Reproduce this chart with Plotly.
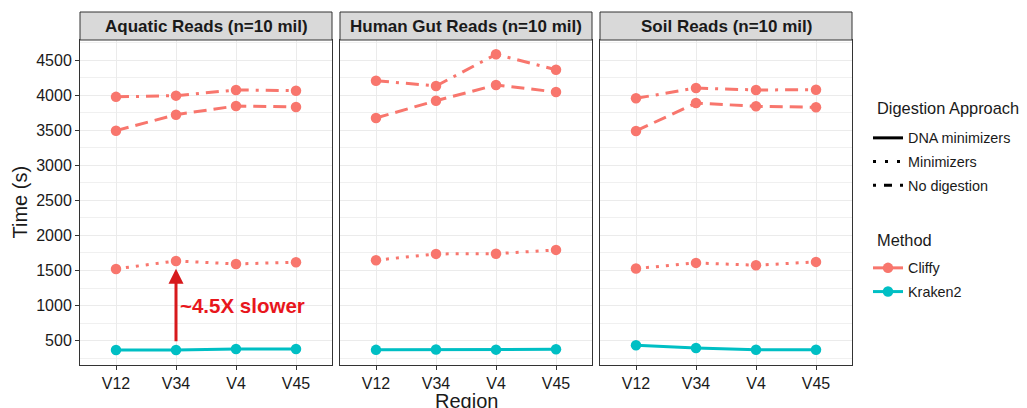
import plotly.graph_objects as go

regions = ["V12", "V34", "V4", "V45"]
panels = ["Aquatic Reads (n=10 mil)", "Human Gut Reads (n=10 mil)", "Soil Reads (n=10 mil)"]

# Cliffy (dash-dot series)
cliffy_dashdot_aquatic = [3975, 3992, 4073, 4063]
cliffy_dashdot_gut = [4205, 4130, 4581, 4362]
cliffy_dashdot_soil = [3954, 4101, 4073, 4077]
# Cliffy (dashed series)
cliffy_dash_aquatic = [3493, 3721, 3845, 3830]
cliffy_dash_gut = [3674, 3920, 4144, 4044]
cliffy_dash_soil = [3489, 3887, 3840, 3826]
# Cliffy (dotted series, Minimizers)
cliffy_dot_aquatic = [1523, 1637, 1594, 1618]
cliffy_dot_gut = [1647, 1737, 1740, 1794]
cliffy_dot_soil = [1528, 1609, 1576, 1623]
# Kraken2 (solid, DNA minimizers)
kraken_aquatic = [368, 368, 382, 382]
kraken_gut = [370, 375, 373, 378]
kraken_soil = [436, 396, 372, 372]

y_ticks = [500, 1000, 1500, 2000, 2500, 3000, 3500, 4000, 4500]
y_range = [154, 4785]

arrow_from = 470
arrow_to = 1525
arrow_label = "~4.5X slower"
arrow_label_y = 1000

digestion_names = ["DNA minimizers", "Minimizers", "No digestion"]
method_names = ["Cliffy", "Kraken2"]

CLIFFY = "#F8766D"
KRAKEN = "#00BFC4"
FONT = "Liberation Sans, Arial, Helvetica, sans-serif"
TXT = "#1a1a1a"

DASH = "13px,7px"
DASHDOT = "13px,7px,3px,7px"
DOT = "3px,7px"

series = [
    ([cliffy_dashdot_aquatic, cliffy_dashdot_gut, cliffy_dashdot_soil], CLIFFY, DASHDOT),
    ([cliffy_dash_aquatic, cliffy_dash_gut, cliffy_dash_soil], CLIFFY, DASH),
    ([cliffy_dot_aquatic, cliffy_dot_gut, cliffy_dot_soil], CLIFFY, DOT),
    ([kraken_aquatic, kraken_gut, kraken_soil], KRAKEN, "solid"),
]

fig = go.Figure()

for vals, color, dash in series:
    for i in range(3):
        sfx = "" if i == 0 else str(i + 1)
        fig.add_trace(go.Scatter(
            x=regions, y=vals[i], mode="lines+markers",
            line=dict(color=color, width=3, dash=dash),
            marker=dict(color=color, size=10.5),
            xaxis="x" + sfx, yaxis="y" + sfx, showlegend=False,
            hoverinfo="skip",
        ))

# Legend entries: Digestion Approach
for name, dash in zip(digestion_names, ["solid", "3px,9px", "3px,8px,8px,8px"]):
    fig.add_trace(go.Scatter(x=[None], y=[None], mode="lines", name=name,
                             line=dict(color="black", width=3, dash=dash),
                             legend="legend", legendgroup=name, showlegend=True))
# Legend entries: Method
for name, color in zip(method_names, [CLIFFY, KRAKEN]):
    fig.add_trace(go.Scatter(x=[None], y=[None], mode="lines+markers", name=name,
                             line=dict(color=color, width=3),
                             marker=dict(color=color, size=10.5),
                             legend="legend2", legendgroup=name, showlegend=True))

# page body adds an 8px offset; figure is sized to fit the window
OFF = 8
W, H = 1027 - OFF, 408 - OFF
ml, mr, mt, mb = 80 - OFF, 175, 12 - OFF, 43
pw = W - ml - mr
ph = H - mt - mb
panel_top_px = 40 - OFF
ydom_top = (H - mb - panel_top_px) / ph


def px_x(sx):
    return (sx - OFF - ml) / pw


def px_y(sy):
    return (H - mb - (sy - OFF)) / ph


x_doms = [
    (0, px_x(332)),
    (px_x(340), px_x(592)),
    (px_x(600), 1.0),
]

layout = dict(
    width=W, height=H,
    margin=dict(l=ml, r=mr, t=mt, b=mb, autoexpand=False),
    paper_bgcolor="white", plot_bgcolor="white",
    font=dict(family=FONT, color=TXT),
    showlegend=True,
)

for i in range(3):
    sfx = "" if i == 0 else str(i + 1)
    layout["xaxis" + sfx] = dict(
        domain=list(x_doms[i]), anchor="y" + sfx,
        type="category", categoryorder="array", categoryarray=regions,
        range=[-0.6, 3.6],
        showline=True, mirror=True, linecolor="#333333", linewidth=1,
        showgrid=True, gridcolor="#EBEBEB", gridwidth=1,
        ticks="outside", ticklen=4, tickcolor="#333333",
        tickfont=dict(size=16, color=TXT, family=FONT),
        zeroline=False, fixedrange=True, automargin=False,
    )
    layout["yaxis" + sfx] = dict(
        domain=[0, ydom_top], anchor="x" + sfx,
        range=y_range, tickmode="array", tickvals=y_ticks,
        showticklabels=(i == 0),
        showline=True, mirror=True, linecolor="#333333", linewidth=1,
        showgrid=True, gridcolor="#EBEBEB", gridwidth=1.1,
        minor=dict(tick0=250, dtick=500, showgrid=True, gridcolor="#F0F0F0", gridwidth=0.6),
        ticks="outside" if i == 0 else "", ticklen=4, tickcolor="#333333",
        tickfont=dict(size=16, color=TXT, family=FONT),
        zeroline=False, fixedrange=True, automargin=False,
    )
    if i > 0:
        layout["yaxis" + sfx]["matches"] = "y"

leg_common = dict(
    xref="container", yref="container", xanchor="left", yanchor="top",
    font=dict(size=14.4, family=FONT, color=TXT),
    bgcolor="rgba(0,0,0,0)", itemwidth=30, traceorder="grouped", tracegroupgap=2,
)
layout["legend"] = dict(x=(868 - OFF) / W, y=1 - (122 - OFF) / H, **leg_common)
layout["legend2"] = dict(x=(868 - OFF) / W, y=1 - (252 - OFF) / H, **leg_common)

shapes = []
annotations = []
for i in range(3):
    shapes.append(dict(type="rect", xref="paper", yref="paper",
                       x0=x_doms[i][0], x1=x_doms[i][1], y0=ydom_top, y1=1.0,
                       fillcolor="#D9D9D9", line=dict(color="#333333", width=1), layer="above"))
    annotations.append(dict(text="<b>" + panels[i] + "</b>", xref="paper", yref="paper",
                            x=(x_doms[i][0] + x_doms[i][1]) / 2, y=(ydom_top + 1) / 2,
                            xanchor="center", yanchor="middle", showarrow=False,
                            font=dict(size=17, family=FONT, color=TXT)))

# legend titles
annotations.append(dict(text="Digestion Approach", xref="paper", yref="paper",
                        x=px_x(875), y=px_y(108), xanchor="left", yanchor="middle",
                        showarrow=False, font=dict(size=16.4, family=FONT, color=TXT)))
annotations.append(dict(text="Method", xref="paper", yref="paper",
                        x=px_x(875), y=px_y(240), xanchor="left", yanchor="middle",
                        showarrow=False, font=dict(size=16.4, family=FONT, color=TXT)))

# arrow and label
annotations.append(dict(x=1, y=arrow_to, ax=1, ay=arrow_from, xref="x", yref="y",
                        axref="x", ayref="y", showarrow=True, arrowhead=2, arrowsize=1,
                        arrowwidth=3, arrowcolor="#D7191C", text=""))
annotations.append(dict(x=1, y=arrow_label_y, xref="x", yref="y", text="<b>" + arrow_label + "</b>",
                        showarrow=False, xanchor="left", yanchor="middle", xshift=2,
                        font=dict(size=20.5, family=FONT, color="#E8161C")))

# axis titles
annotations.append(dict(text="Time (s)", xref="paper", yref="paper", x=px_x(19), y=ydom_top / 2,
                        xanchor="center", yanchor="middle", textangle=-90,
                        showarrow=False, font=dict(size=20, family=FONT, color=TXT)))
annotations.append(dict(text="Region", xref="paper", yref="paper", x=0.5, y=0,
                        xanchor="center", yanchor="top", yshift=-23,
                        showarrow=False, font=dict(size=20, family=FONT, color=TXT)))

layout["shapes"] = shapes
layout["annotations"] = annotations
fig.update_layout(**layout)

fig.write_html("out.html")
